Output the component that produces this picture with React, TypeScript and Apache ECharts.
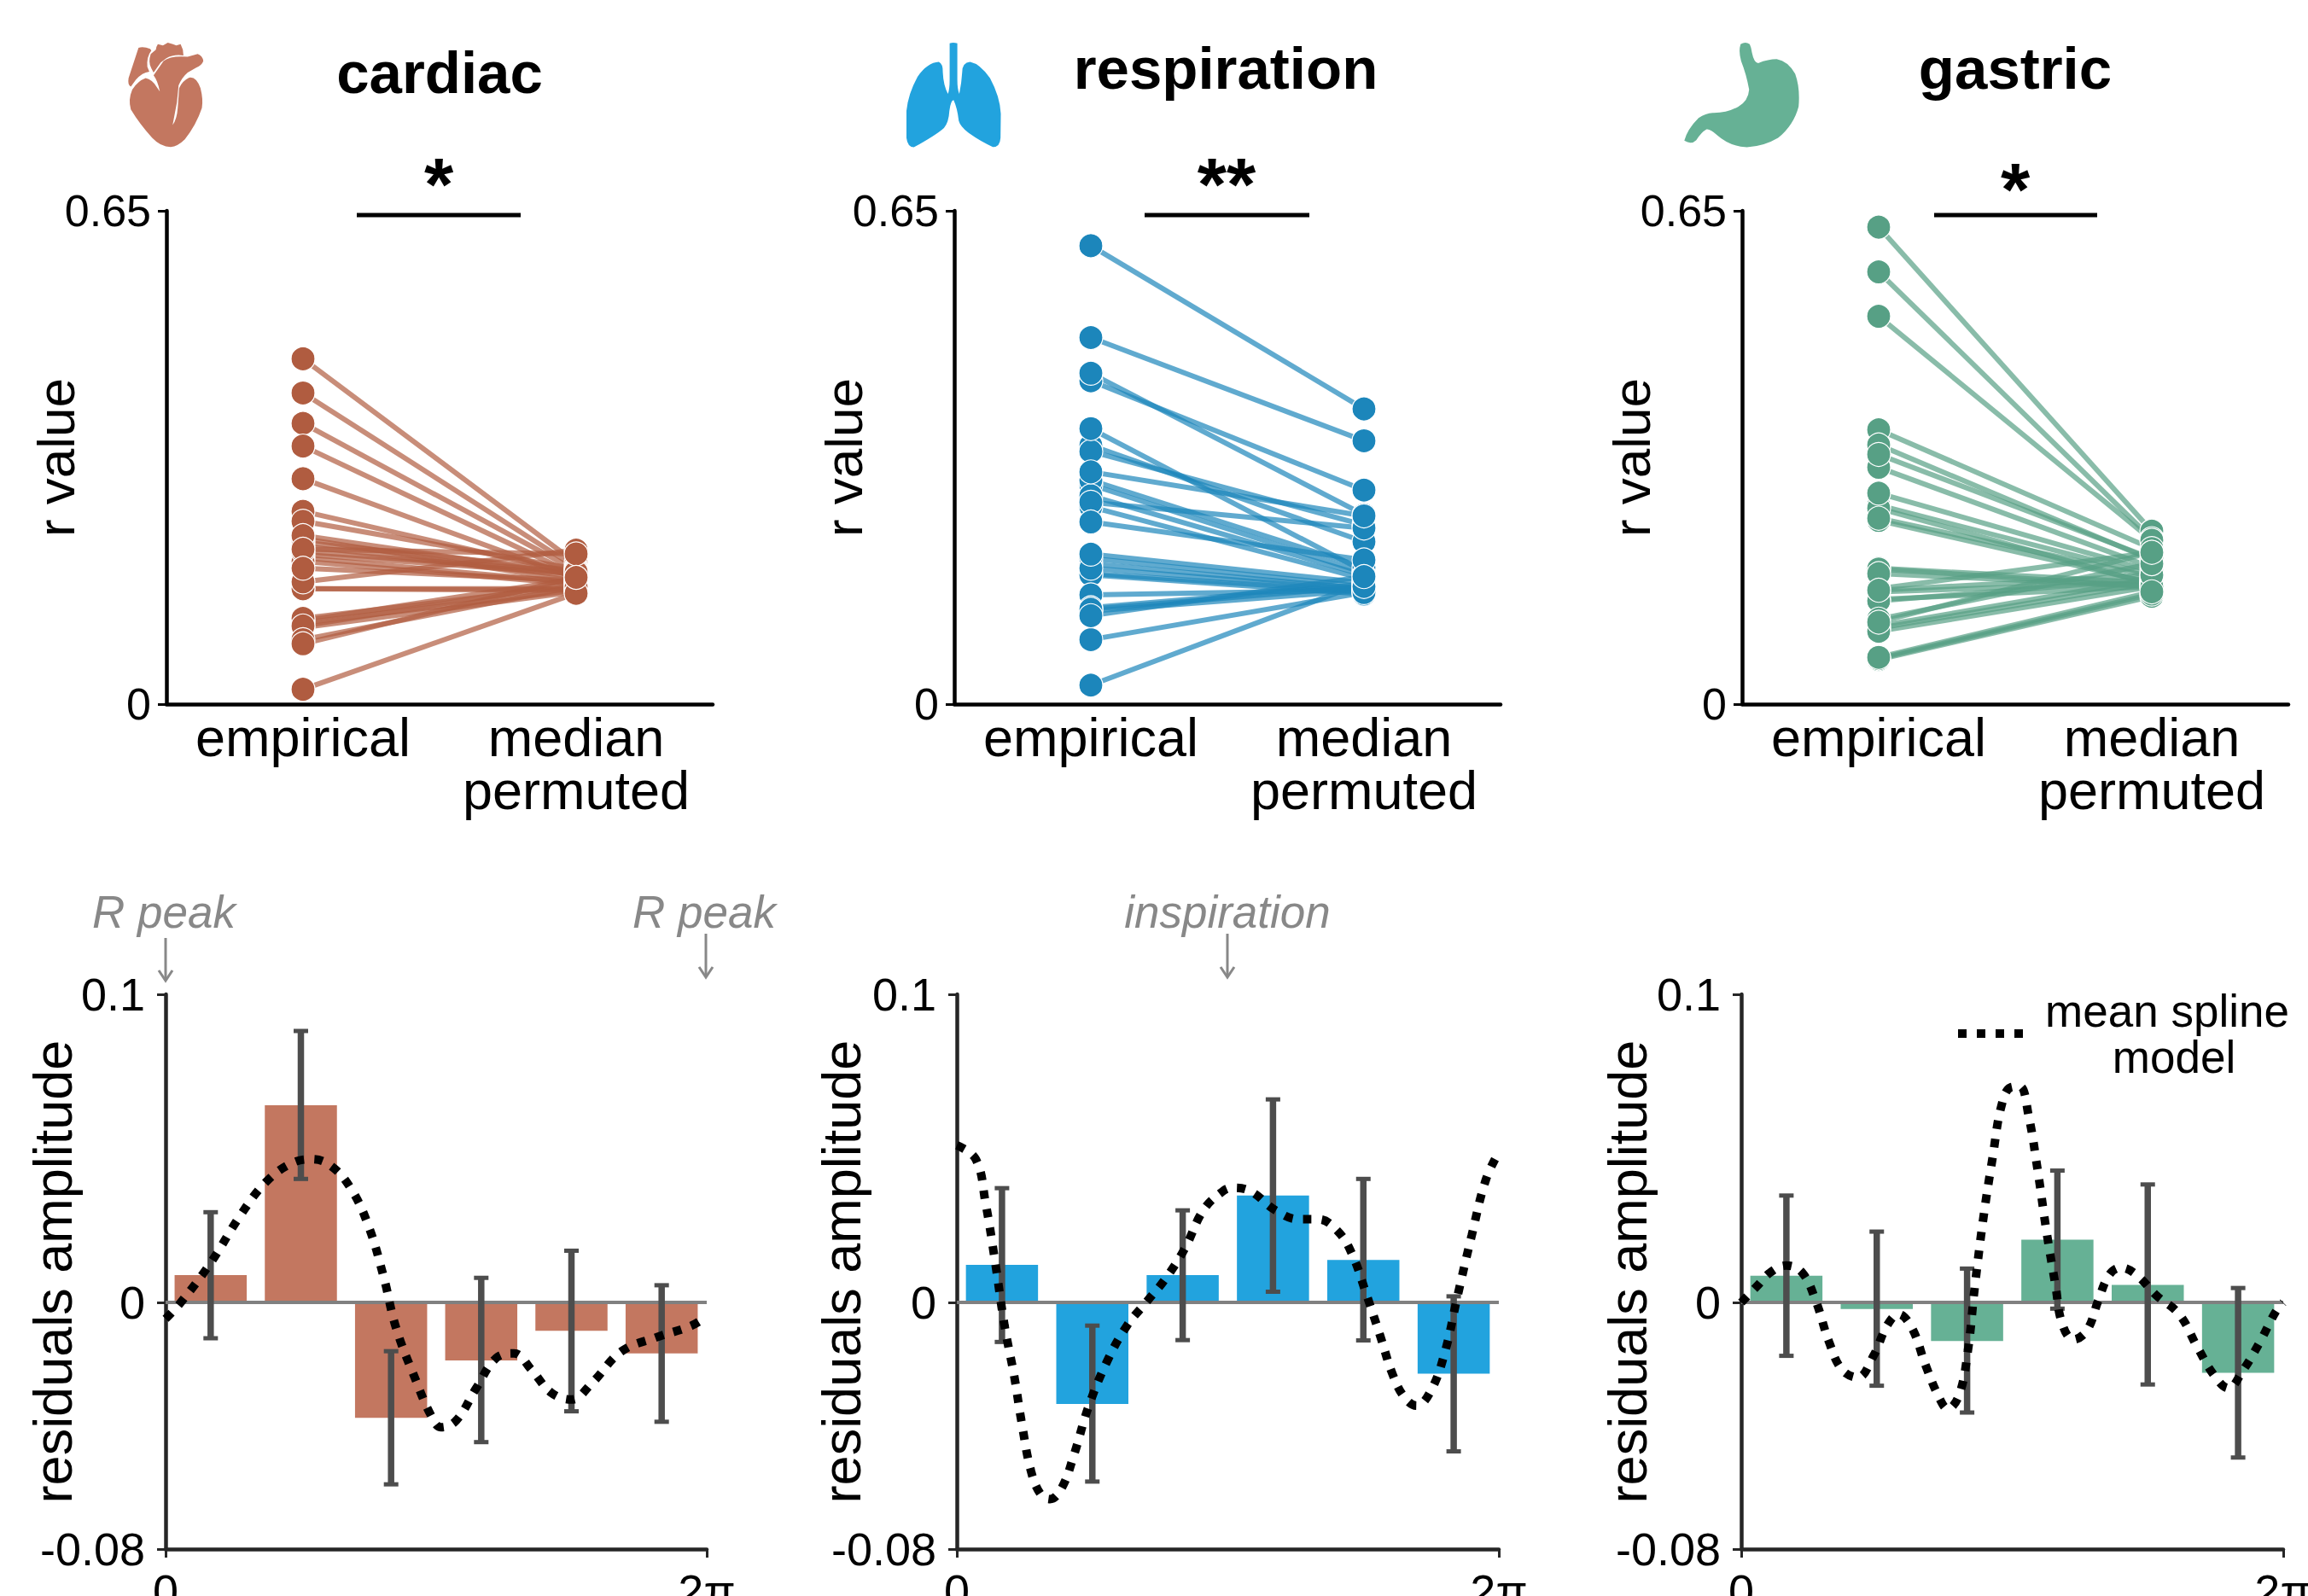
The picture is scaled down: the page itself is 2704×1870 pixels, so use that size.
import React, { useEffect, useRef } from "react";
import * as echarts from "echarts";

const FONT = "Liberation Sans";
const sideCategories = ["empirical", "median\npermuted"];

const cardiacEmpirical = [0.455,0.410,0.370,0.340,0.297,0.254,0.241,0.218,0.213,0.208,0.222,0.193,0.197,0.188,0.201,0.152,0.152,0.161,0.204,0.179,0.110,0.107,0.113,0.101,0.103,0.085,0.0195,0.0795];
const cardiacPermuted = [0.186,0.180,0.176,0.170,0.166,0.172,0.178,0.162,0.176,0.168,0.170,0.160,0.172,0.158,0.174,0.150,0.152,0.203,0.198,0.163,0.165,0.150,0.156,0.148,0.160,0.155,0.146,0.167];

const respirationEmpirical = [0.604,0.483,0.426,0.436,0.341,0.333,0.363,0.289,0.295,0.2745,0.26,0.266,0.24,0.306,0.185,0.172,0.192,0.1705,0.179,0.1976,0.144,0.127,0.1227,0.085,0.025,0.125,0.1165];
const respirationPermuted = [0.389,0.347,0.282,0.2495,0.214,0.236,0.175,0.173,0.18,0.17,0.165,0.232,0.19,0.248,0.152,0.148,0.155,0.145,0.15,0.16,0.15,0.158,0.15,0.147,0.16,0.155,0.168];

const gastricEmpirical = [0.6285,0.5695,0.511,0.3615,0.3415,0.312,0.262,0.258,0.242,0.278,0.245,0.329,0.179,0.152,0.148,0.138,0.136,0.103,0.1,0.096,0.0587,0.06,0.178,0.172,0.15,0.112,0.108,0.0616];
const gastricPermuted = [0.228,0.218,0.216,0.205,0.19,0.18,0.17,0.158,0.16,0.175,0.168,0.192,0.16,0.2,0.16,0.155,0.165,0.165,0.16,0.155,0.142,0.145,0.155,0.155,0.17,0.185,0.2,0.148];

const binCenters = [0.0833,0.25,0.4167,0.5833,0.75,0.9167];

const cardiacBars = [0.0089,0.064,-0.0374,-0.0188,-0.0092,-0.0165];
const cardiacHigh = [0.0293,0.0881,-0.0158,0.008,0.0168,0.0056];
const cardiacLow = [-0.0116,0.0401,-0.059,-0.0453,-0.0353,-0.0387];
const cardiacSplineX = [0,0.028,0.083,0.139,0.185,0.231,0.269,0.306,0.343,0.375,0.403,0.426,0.463,0.491,0.509,0.537,0.574,0.611,0.644,0.676,0.713,0.75,0.787,0.843,0.907,0.972,1];
const cardiacSplineY = [-0.0053,0,0.0128,0.0285,0.039,0.045,0.0465,0.0443,0.0368,0.0248,0.0083,-0.0083,-0.0255,-0.0368,-0.0405,-0.0383,-0.0278,-0.018,-0.0165,-0.0218,-0.0293,-0.0315,-0.0263,-0.0158,-0.0113,-0.0075,-0.0045];

const respirationBars = [0.0122,-0.0329,0.0089,0.0347,0.0138,-0.0231];
const respirationHigh = [0.0371,-0.0075,0.0299,0.0659,0.0401,0.002];
const respirationLow = [-0.0128,-0.0581,-0.0122,0.0035,-0.0123,-0.0483];
const respirationSplineX = [0,0.035,0.053,0.071,0.088,0.106,0.119,0.137,0.155,0.172,0.194,0.216,0.243,0.278,0.314,0.349,0.384,0.42,0.455,0.49,0.508,0.543,0.587,0.632,0.667,0.702,0.729,0.755,0.782,0.804,0.826,0.848,0.875,0.901,0.923,0.95,0.976,1];
const respirationSplineY = [0.051,0.0465,0.0323,0.0128,-0.0075,-0.024,-0.0383,-0.0548,-0.0623,-0.0638,-0.06,-0.0495,-0.0338,-0.0188,-0.0075,0,0.0075,0.0173,0.03,0.036,0.0372,0.036,0.03,0.027,0.027,0.0233,0.0158,0.003,-0.0113,-0.0233,-0.0308,-0.0335,-0.0285,-0.0158,0.0015,0.0218,0.0398,0.0488];

const gastricBars = [0.0087,-0.0021,-0.0125,0.0204,0.0057,-0.0228];
const gastricHigh = [0.0347,0.023,0.011,0.0428,0.0383,0.0047];
const gastricLow = [-0.0173,-0.027,-0.0357,-0.002,-0.0266,-0.0503];
const gastricSplineX = [0,0.029,0.054,0.083,0.112,0.137,0.162,0.186,0.215,0.244,0.269,0.29,0.315,0.34,0.365,0.381,0.402,0.418,0.431,0.447,0.464,0.48,0.497,0.514,0.53,0.547,0.563,0.58,0.592,0.613,0.638,0.659,0.679,0.7,0.729,0.766,0.808,0.841,0.874,0.899,0.924,0.957,0.986,1];
const gastricSplineY = [0,0.0053,0.0098,0.012,0.0098,0.0008,-0.0128,-0.0218,-0.0243,-0.0173,-0.0075,-0.0038,-0.0083,-0.0203,-0.0308,-0.0345,-0.03,-0.0158,0.0053,0.0278,0.0473,0.0638,0.0698,0.0701,0.0608,0.0428,0.0233,0.0053,-0.0068,-0.012,-0.009,0.0008,0.009,0.0113,0.009,0.0023,-0.0038,-0.0143,-0.024,-0.0278,-0.0225,-0.0128,-0.003,0];

const heartPath = "M127,108 Q145,103 168,112 L172,118 Q155,140 158,175 L165,192 Q140,195 118,220 L100,245 Q88,240 92,215 Q105,175 110,160 Z M190,105 L195,95 L213,100 L230,90 L248,95 L260,100 L275,95 L283,115 L285,135 Q250,130 225,145 L205,160 L180,195 L172,180 Q160,160 170,130 L188,115 Z M300,140 L335,130 Q352,135 355,155 Q350,170 330,178 L300,195 Q280,212 268,240 L262,300 L247,380 Q262,360 265,320 L270,250 Q280,225 305,213 Q330,208 345,250 Q355,290 350,320 Q330,380 290,430 Q265,455 240,457 Q205,457 175,425 Q130,375 100,325 Q90,290 105,255 Q125,225 152,215 Q175,220 190,245 L202,262 Q195,225 180,205 L215,155 Q240,135 300,140 Z";
const lungsPath = "M218,62 Q230,58 245,62 L245,190 Q245,225 252,240 Q260,200 262,165 Q262,130 290,128 Q325,135 360,185 Q395,250 398,310 L397,395 Q395,428 370,427 Q330,410 285,378 Q255,355 250,335 Q245,290 232,262 Q222,262 217,300 Q215,340 198,360 Q170,385 92,428 Q70,428 66,395 L66,300 Q72,240 105,180 Q140,130 180,128 Q195,135 194,165 Q196,210 212,240 Q218,225 218,190 Z";
const stomachPath = "M238,65 Q255,55 270,65 Q275,75 278,95 Q285,130 300,132 Q335,118 365,118 Q405,125 430,170 Q448,220 442,285 Q425,350 370,395 Q320,425 260,428 Q200,425 155,385 Q130,362 118,365 Q100,375 82,403 Q65,420 40,405 Q50,365 90,325 Q115,308 140,307 Q190,308 230,285 Q265,265 268,225 Q258,170 240,125 Q230,90 238,65 Z";

echarts.graphic.registerShape("heartIcon", echarts.graphic.extendPath(heartPath, {}));
echarts.graphic.registerShape("lungsIcon", echarts.graphic.extendPath(lungsPath, {}));
echarts.graphic.registerShape("stomachIcon", echarts.graphic.extendPath(stomachPath, {}));

const panels = [
  {
    title: "cardiac", stars: "*", titleX: 515, titleY: 85, starX: 514, starY: 215,
    sig: [418, 610], icon: "heartIcon", iconX: 120, iconY: 20,
    markerColor: "#B05C40", barColor: "#C37760",
    empirical: cardiacEmpirical, permuted: cardiacPermuted,
    bars: cardiacBars, high: cardiacHigh, low: cardiacLow, sx: cardiacSplineX, sy: cardiacSplineY,
    topX: 195, bottomX: 194, bottomW: 634, topGap: 99, bottomGap: 101,
  },
  {
    title: "respiration", stars: "**", titleX: 1436, titleY: 80, starX: 1437, starY: 215,
    sig: [1341, 1534], icon: "lungsIcon", iconX: 1040, iconY: 30,
    markerColor: "#1C86BB", barColor: "#22A3DE",
    empirical: respirationEmpirical, permuted: respirationPermuted,
    bars: respirationBars, high: respirationHigh, low: respirationLow, sx: respirationSplineX, sy: respirationSplineY,
    topX: 1118, bottomX: 1121, bottomW: 635, topGap: 99, bottomGap: 104,
  },
  {
    title: "gastric", stars: "*", titleX: 2361, titleY: 80, starX: 2361, starY: 221,
    sig: [2266, 2457], icon: "stomachIcon", iconX: 1960, iconY: 30,
    markerColor: "#57A085", barColor: "#66B195",
    empirical: gastricEmpirical, permuted: gastricPermuted,
    bars: gastricBars, high: gastricHigh, low: gastricLow, sx: gastricSplineX, sy: gastricSplineY,
    topX: 2041, bottomX: 2040, bottomW: 635, topGap: 99, bottomGap: 102,
  },
];

function hexAlpha(hex: string, a: number) {
  const n = parseInt(hex.slice(1), 16);
  return `rgba(${(n >> 16) & 255},${(n >> 8) & 255},${n & 255},${a})`;
}

function arrow(x: number, y1: number, y2: number) {
  return [
    { type: "line", shape: { x1: x, y1, x2: x, y2 }, style: { stroke: "#888888", lineWidth: 3 } },
    { type: "polyline", shape: { points: [[x - 8, y2 - 12], [x, y2], [x + 8, y2 - 12]] }, style: { stroke: "#888888", lineWidth: 3, fill: "none" } },
  ];
}

function label(text: string, x: number, y: number, font: string, fill = "#000") {
  return { type: "text", x, y, style: { text, fill, font, align: "center", verticalAlign: "middle" } };
}

function buildOption() {
  const grid: any[] = [];
  const xAxis: any[] = [];
  const yAxis: any[] = [];
  const series: any[] = [];
  const graphic: any[] = [];

  panels.forEach((p) => {
    const topIndex = grid.length;
    grid.push({ left: p.topX, top: 247, width: 640, height: 578, outerBoundsMode: "none" });
    xAxis.push({
      type: "category", gridIndex: topIndex, data: sideCategories,
      axisLine: { onZero: false, lineStyle: { color: "#000", width: 4.5 } },
      axisTick: { alignWithLabel: true, length: 10, lineStyle: { color: "#000", width: 3 } },
      axisLabel: { interval: 0, margin: 8, color: "#000", fontFamily: FONT, fontSize: 63, lineHeight: 62 },
    });
    yAxis.push({
      type: "value", gridIndex: topIndex, min: 0, max: 0.65, splitLine: { show: false },
      name: "r value", nameLocation: "middle", nameGap: p.topGap, nameRotate: 90, nameMoveOverlap: false,
      nameTextStyle: { color: "#000", fontFamily: FONT, fontSize: 62 },
      axisLine: { show: true, onZero: false, lineStyle: { color: "#000", width: 4.5 } },
      axisTick: { show: true, length: 10, customValues: [0, 0.65], lineStyle: { color: "#000", width: 3 } },
      axisLabel: { customValues: [0, 0.65], margin: 18, color: "#000", fontFamily: FONT, fontSize: 52, formatter: (v: number) => (v === 0 ? "0" : "0.65") },
    });
    p.empirical.forEach((e, i) => {
      series.push({
        type: "line", xAxisIndex: topIndex, yAxisIndex: topIndex, z: 2,
        data: [e, p.permuted[i]], showSymbol: false, symbol: "none", silent: true,
        lineStyle: { color: hexAlpha(p.markerColor, 0.7), width: 6 },
      });
    });
    series.push({
      type: "scatter", xAxisIndex: topIndex, yAxisIndex: topIndex, z: 3, symbolSize: 28,
      data: p.empirical.map((v) => [0, v]),
      itemStyle: { color: p.markerColor, borderColor: "#fff", borderWidth: 1.2, opacity: 1 },
    });
    series.push({
      type: "scatter", xAxisIndex: topIndex, yAxisIndex: topIndex, z: 3, symbolSize: 28,
      data: p.permuted.map((v) => [1, v]),
      itemStyle: { color: p.markerColor, borderColor: "#fff", borderWidth: 1.2, opacity: 1 },
    });

    const bottomIndex = grid.length;
    grid.push({ left: p.bottomX, top: 1165, width: p.bottomW, height: 650, outerBoundsMode: "none" });
    xAxis.push({
      type: "value", gridIndex: bottomIndex, min: 0, max: 1, interval: 1, splitLine: { show: false },
      axisLine: { onZero: false, lineStyle: { color: "#262626", width: 4.5 } },
      axisTick: { length: 10, lineStyle: { color: "#262626", width: 3 } },
      axisLabel: { margin: 22, color: "#000", fontFamily: FONT, fontSize: 54, formatter: (v: number) => (v === 0 ? "0" : "2π") },
    });
    yAxis.push({
      type: "value", gridIndex: bottomIndex, min: -0.08, max: 0.1, splitLine: { show: false },
      name: "residuals amplitude", nameLocation: "middle", nameGap: p.bottomGap, nameRotate: 90, nameMoveOverlap: false,
      nameTextStyle: { color: "#000", fontFamily: FONT, fontSize: 63 },
      axisLine: { show: true, onZero: false, lineStyle: { color: "#262626", width: 4.5 } },
      axisTick: { show: true, length: 10, customValues: [-0.08, 0, 0.1], lineStyle: { color: "#262626", width: 3 } },
      axisLabel: { customValues: [-0.08, 0, 0.1], margin: 24, color: "#000", fontFamily: FONT, fontSize: 54 },
    });
    series.push({
      type: "bar", xAxisIndex: bottomIndex, yAxisIndex: bottomIndex, z: 2, barWidth: 84.5,
      data: p.bars.map((v, i) => [binCenters[i], v]), itemStyle: { color: p.barColor },
    });
    series.push({
      type: "line", xAxisIndex: bottomIndex, yAxisIndex: bottomIndex, z: 3, symbol: "none",
      data: [[0, 0], [1, 0]], lineStyle: { color: "#808080", width: 4 },
    });
    series.push({
      type: "custom", xAxisIndex: bottomIndex, yAxisIndex: bottomIndex, z: 4, clip: false,
      encode: { x: 0, y: [1, 2] },
      data: p.high.map((h, i) => [binCenters[i], p.low[i], h]),
      renderItem: (_: any, api: any) => {
        const lo = api.coord([api.value(0), api.value(1)]);
        const hi = api.coord([api.value(0), api.value(2)]);
        const style = { stroke: "#4d4d4d", lineWidth: 7.5 };
        const cap = { stroke: "#4d4d4d", lineWidth: 5 };
        return {
          type: "group",
          children: [
            { type: "line", shape: { x1: lo[0], y1: lo[1], x2: hi[0], y2: hi[1] }, style },
            { type: "line", shape: { x1: lo[0] - 8.5, y1: lo[1], x2: lo[0] + 8.5, y2: lo[1] }, style: cap },
            { type: "line", shape: { x1: hi[0] - 8.5, y1: hi[1], x2: hi[0] + 8.5, y2: hi[1] }, style: cap },
          ],
        };
      },
    });
    series.push({
      type: "line", xAxisIndex: bottomIndex, yAxisIndex: bottomIndex, z: 5, symbol: "none", smooth: 0.4, clip: false,
      data: p.sx.map((x, i) => [x, p.sy[i]]),
      lineStyle: { color: "#000", width: 10, type: [10, 12], cap: "butt" },
    });

    graphic.push(label(p.title, p.titleX, p.titleY, `bold 69px "${FONT}"`));
    graphic.push(label(p.stars, p.starX, p.starY, `bold 88px "${FONT}"`));
    graphic.push({ type: "line", shape: { x1: p.sig[0], y1: 252, x2: p.sig[1], y2: 252 }, style: { stroke: "#000", lineWidth: 5 } });
    graphic.push({ type: p.icon, x: p.iconX, y: p.iconY, scaleX: 1 / 3, scaleY: 1 / 3, style: { fill: p.barColor } });
  });

  const greyFont = `italic 53px "${FONT}"`;
  graphic.push(label("R peak", 192, 1068, greyFont, "#888888"), label("R peak", 825, 1068, greyFont, "#888888"), label("inspiration", 1438, 1068, greyFont, "#888888"));
  graphic.push(...arrow(194, 1099, 1149), ...arrow(827, 1094, 1145), ...arrow(1438, 1094, 1145));
  graphic.push({ type: "line", shape: { x1: 2294, y1: 1211, x2: 2382, y2: 1211 }, style: { stroke: "#000", lineWidth: 10, lineDash: [10, 12] } });
  graphic.push(label("mean spline", 2539, 1184, `53px "${FONT}"`));
  graphic.push(label("model", 2547, 1238, `53px "${FONT}"`));

  return { animation: false, backgroundColor: "#fff", grid, xAxis, yAxis, series, graphic: { elements: graphic } };
}

export default function App() {
  const ref = useRef<HTMLDivElement>(null);
  useEffect(() => {
    const chart = echarts.init(ref.current!, undefined, { renderer: "svg" });
    chart.setOption(buildOption() as any);
    return () => chart.dispose();
  }, []);
  return <div ref={ref} style={{ position: "fixed", left: 0, top: 0, width: 2704, height: 1870, background: "#fff" }} />;
}
